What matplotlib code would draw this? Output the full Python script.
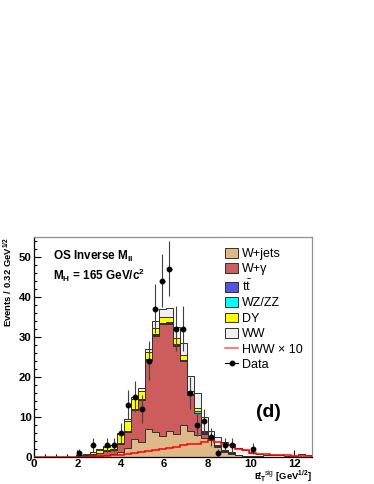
import numpy as np
import matplotlib
matplotlib.use("Agg")
import matplotlib.pyplot as plt
from matplotlib.patches import Patch
from matplotlib.lines import Line2D

plt.rcParams["font.family"] = ["Liberation Sans", "DejaVu Sans"]
plt.rcParams["mathtext.fontset"] = "custom"
plt.rcParams["mathtext.rm"] = "Liberation Sans"
plt.rcParams["mathtext.it"] = "Liberation Sans:italic"
plt.rcParams["mathtext.bf"] = "Liberation Sans:bold"

# 40 bins of 0.32 GeV^1/2 from 0 to 12.8
bin_width = 0.32
n_bins = 40

# per-bin contributions, bins 0..39
wjets = [0, 0, 0, 0, 0, 0, 0.05, 0.1, 0.15, 0.3, 0.5, 0.7, 1.2, 2.2, 4.4, 3.8,
         6.9, 6.3, 5.2, 6.4, 5.8, 8.0, 6.5, 5.5, 4.6, 4.2, 2.4, 1.3, 0.8, 0.4,
         0.3, 0.15, 0.1, 0.05, 0.05, 0, 0, 0, 0, 0]
wgamma = [0, 0, 0, 0, 0, 0, 0.15, 0.2, 0.4, 0.6, 1.0, 1.0, 2.1, 3.9, 7.3, 10.5,
          17.3, 24.0, 28.0, 26.9, 22.0, 15.9, 8.9, 5.5, 1.2, 0.3, 0.2, 0.1, 0.05, 0,
          0, 0, 0, 0, 0, 0, 0, 0, 0, 0]
ttbar = [0, 0, 0, 0, 0, 0, 0, 0, 0.02, 0.02, 0.03, 0.03, 0.05, 0.05, 0.05, 0.05,
         0.05, 0.05, 0.05, 0.05, 0.05, 0.05, 0.05, 0.05, 0.05, 0.03, 0.03, 0.02, 0.02, 0.01,
         0, 0, 0, 0, 0, 0, 0, 0, 0, 0]
wzzz = [0, 0, 0, 0, 0, 0, 0.05, 0.05, 0.08, 0.1, 0.1, 0.1, 0.15, 0.2, 0.2, 0.2,
        0.2, 0.3, 0.3, 0.3, 0.3, 0.3, 0.3, 0.3, 0.3, 0.2, 0.15, 0.1, 0.1, 0.05,
        0, 0, 0, 0, 0, 0, 0, 0, 0, 0]
dy = [0, 0, 0, 0, 0, 0, 0.2, 0.2, 0.45, 0.6, 0.9, 1.0, 2.25, 2.7, 2.4, 1.9,
      1.7, 1.6, 1.3, 1.2, 1.5, 1.1, 0.8, 0.9, 0.3, 0.2, 0.15, 0.1, 0.1, 0.05,
      0, 0, 0, 0, 0, 0, 0, 0, 0, 0]
ww = [0, 0, 0, 0, 0, 0, 0.05, 0.05, 0.1, 0.2, 0.2, 0.2, 0.3, 0.4, 0.6, 0.7,
      0.9, 1.8, 2.1, 2.4, 2.7, 3.2, 3.7, 3.7, 3.6, 1.6, 2.1, 2.1, 2.15, 1.7,
      1.4, 0.85, 0.5, 0.45, 0.4, 0.4, 0.3, 0.3, 0.6, 0.5]
hww10 = [0, 0, 0, 0, 0, 0, 0, 0.05, 0.1, 0.2, 0.25, 0.4, 0.5, 0.8, 0.9, 1.2,
         1.5, 1.7, 1.9, 2.2, 2.5, 2.9, 3.1, 3.3, 3.8, 4.1, 3.8, 3.3, 2.9, 1.9,
         1.6, 1.0, 0.7, 0.6, 0.5, 0.4, 0.35, 0.3, 0.25, 0.2]
data = [0, 0, 0, 0, 0, 0, 1, 0, 3, 0, 3, 3, 6, 13, 15, 12,
        24, 37, 44, 47, 32, 32, 16, 8, 9, 5, 1, 3, 3, 0,
        0, 2, 0, 0, 0, 0, 0, 0, 0, 0]

layers = [
    ("W+jets", wjets, "#deb887"),
    ("W+γ", wgamma, "#cd5c5c"),
    (r"t$\bar{\mathrm{t}}$", ttbar, "#5555dd"),
    ("WZ/ZZ", wzzz, "#00ffff"),
    ("DY", dy, "#ffff00"),
    ("WW", ww, "#f0f0f0"),
]

edges = np.arange(n_bins + 1) * bin_width
centers = edges[:-1] + bin_width / 2

fig = plt.figure(figsize=(3.74, 4.84), dpi=100)
ax = fig.add_axes([0.0909, 0.0564, 0.7425, 0.4545])

# cumulative stack, drawn from the top down like THStack
cums = np.cumsum([np.array(v, dtype=float) for _, v, _ in layers], axis=0)
for i in range(len(layers) - 1, -1, -1):
    ax.stairs(cums[i], edges, fill=True, color=layers[i][2], zorder=2)
    ax.stairs(cums[i], edges, color="#303030", lw=0.7, zorder=3)

ax.stairs(hww10, edges, color="red", lw=1.1, zorder=4)

data = np.array(data, dtype=float)
mask = data > 0
ax.errorbar(centers[mask], data[mask], yerr=np.sqrt(data[mask]), xerr=0.1,
            fmt="o", color="black", ecolor="#404040", elinewidth=0.8,
            markersize=3.2, capsize=0, zorder=5)

ax.set_xlim(0, 12.8)
ax.set_ylim(0, 55)
ax.set_xticks(np.arange(0, 13, 2))
ax.set_xticks(np.arange(0, 12.81, 0.5), minor=True)
ax.set_yticks(np.arange(0, 51, 10))
ax.set_yticks(np.arange(0, 55, 2), minor=True)
ax.tick_params(which="both", direction="in", top=False, right=False)
ax.tick_params(which="major", length=5, width=0.8, labelsize=8.2, pad=1.5)
ax.tick_params(which="minor", length=2.5, width=0.8)
ax.tick_params(axis="y", which="major", pad=1.5)
for lab in ax.get_xticklabels() + ax.get_yticklabels():
    lab.set_fontweight("bold")
for side in ["top", "right"]:
    ax.spines[side].set_color("#909090")
for side in ax.spines:
    ax.spines[side].set_linewidth(0.9)

ax.text(-0.095, 1.0, r"Events / 0.32 GeV$^{\mathbf{1/2}}$", rotation=90,
        ha="center", va="top", fontsize=6.8, fontweight="bold",
        transform=ax.transAxes)
ax.text(1.0, -0.104,
        r"$\mathbf{E\!\!/}_{\mathbf{T}}^{\ \ \mathrm{sig}}$ [GeV$^{\mathbf{1/2}}$]",
        ha="right", va="baseline", fontsize=6.8, fontweight="bold",
        transform=ax.transAxes)

ax.text(0.068, 0.894, r"OS Inverse M$_{\mathbf{ll}}$", fontsize=8.5,
        fontweight="bold", transform=ax.transAxes)
ax.text(0.068, 0.803, r"M$_{\mathbf{H}}$ = 165 GeV/c$^{\mathbf{2}}$", fontsize=8.5,
        fontweight="bold", transform=ax.transAxes)
ax.text(0.846, 0.18, "(d)", fontsize=14, fontweight="bold", ha="center",
        transform=ax.transAxes)

handles = [Patch(facecolor=c, edgecolor="#303030", lw=0.7) for _, _, c in layers]
handles.append(Line2D([], [], color="#ff5555", lw=1.1))
handles.append(Line2D([], [], color="black", lw=0.8, marker="o", markersize=3.2))
labels = [n for n, _, _ in layers] + ["HWW × 10", "Data"]
ax.legend(handles, labels, loc="upper left", bbox_to_anchor=(0.655, 0.99),
          frameon=False, fontsize=9, handlelength=1.1, handleheight=0.85,
          handletextpad=0.25, labelspacing=0.25, borderpad=0.2)

fig.savefig("out.png", dpi=100)
